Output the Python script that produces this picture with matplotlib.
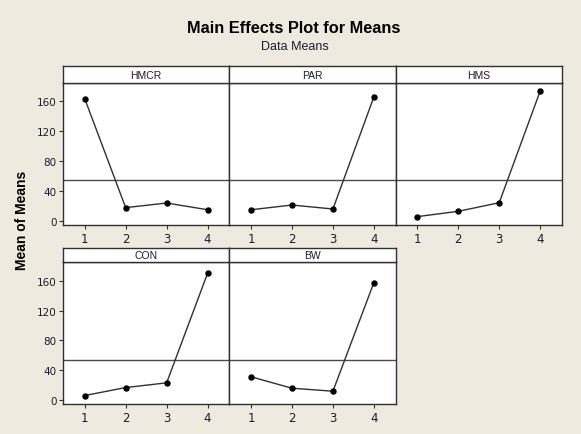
import matplotlib
matplotlib.use("Agg")
import matplotlib.pyplot as plt

factors = ["HMCR", "PAR", "HMS", "CON", "BW"]
levels = [1, 2, 3, 4]
hmcr = [163.6, 17.8, 24.0, 15.0]
par = [15.0, 21.3, 16.0, 166.0]
hms = [5.8, 12.9, 24.4, 173.8]
con = [6.3, 17.0, 23.3, 169.8]
bw = [31.4, 16.1, 12.1, 157.4]
series = [hmcr, par, hms, con, bw]
grand_mean = 54.5
yticks = [0, 40, 80, 120, 160]

W, H = 581, 435
bg = "#EEEAE0"
txt = "#1c1c30"
fig = plt.figure(figsize=(W / 100, H / 100), dpi=100, facecolor=bg)

narrow = ["Liberation Sans Narrow", "Liberation Sans", "DejaVu Sans"]

left0 = 63
pw = 166.3
rows = [
    dict(strip_top=67.3, strip_bot=84.0, plot_bot=225.7),
    dict(strip_top=248.7, strip_bot=263.3, plot_bot=405.0),
]
layout = [(0, 0), (0, 1), (0, 2), (1, 0), (1, 1)]

for k, (r, c) in enumerate(layout):
    rw = rows[r]
    x0 = (left0 + c * pw) / W
    ax = fig.add_axes([x0, 1 - rw["plot_bot"] / H, pw / W,
                       (rw["plot_bot"] - rw["strip_bot"]) / H])
    ax.set_facecolor("white")
    ax.plot(levels, series[k], color="#303030", lw=1.0, marker="o",
            ms=3.6, mfc="black", mec="black", zorder=3)
    ax.axhline(grand_mean, color="#4a4a4a", lw=1.0, zorder=2)
    ax.set_xlim(0.47, 4.53)
    ax.set_ylim(-5, 184.5)
    ax.set_xticks(levels)
    ax.set_xticklabels([str(v) for v in levels], fontsize=8.5, color=txt)
    ax.tick_params(axis="x", direction="out", length=3, width=0.8,
                   color="#333333", pad=2)
    if c == 0:
        ax.set_yticks(yticks)
        ax.set_yticklabels([str(v) for v in yticks], fontsize=7.5, color=txt)
        ax.tick_params(axis="y", direction="out", length=3, width=0.8,
                       color="#333333", pad=1.5)
    else:
        ax.set_yticks([])
    for s in ax.spines.values():
        s.set_color("#303030")
        s.set_linewidth(1.0)

    sax = fig.add_axes([x0, 1 - rw["strip_bot"] / H, pw / W,
                        (rw["strip_bot"] - rw["strip_top"]) / H])
    sax.set_facecolor("white")
    sax.set_xticks([])
    sax.set_yticks([])
    for s in sax.spines.values():
        s.set_color("#303030")
        s.set_linewidth(1.0)
    sax.text(0.5, 0.5, factors[k], ha="center", va="center",
             fontsize=7.5, color=txt, family=narrow, transform=sax.transAxes)

fig.text(294 / W, 1 - 28.3 / H, "Main Effects Plot for Means", ha="center",
         va="center", fontsize=11.8, fontweight="bold", color="black",
         family=narrow)
fig.text(295 / W, 1 - 47.3 / H, "Data Means", ha="center", va="center",
         fontsize=9, color=txt, family=narrow)
fig.text(22 / W, 1 - 220 / H, "Mean of Means", ha="center", va="center",
         rotation=90, fontsize=10, fontweight="bold", color="black",
         family=narrow)

fig.savefig("out.png", dpi=100, facecolor=bg)
